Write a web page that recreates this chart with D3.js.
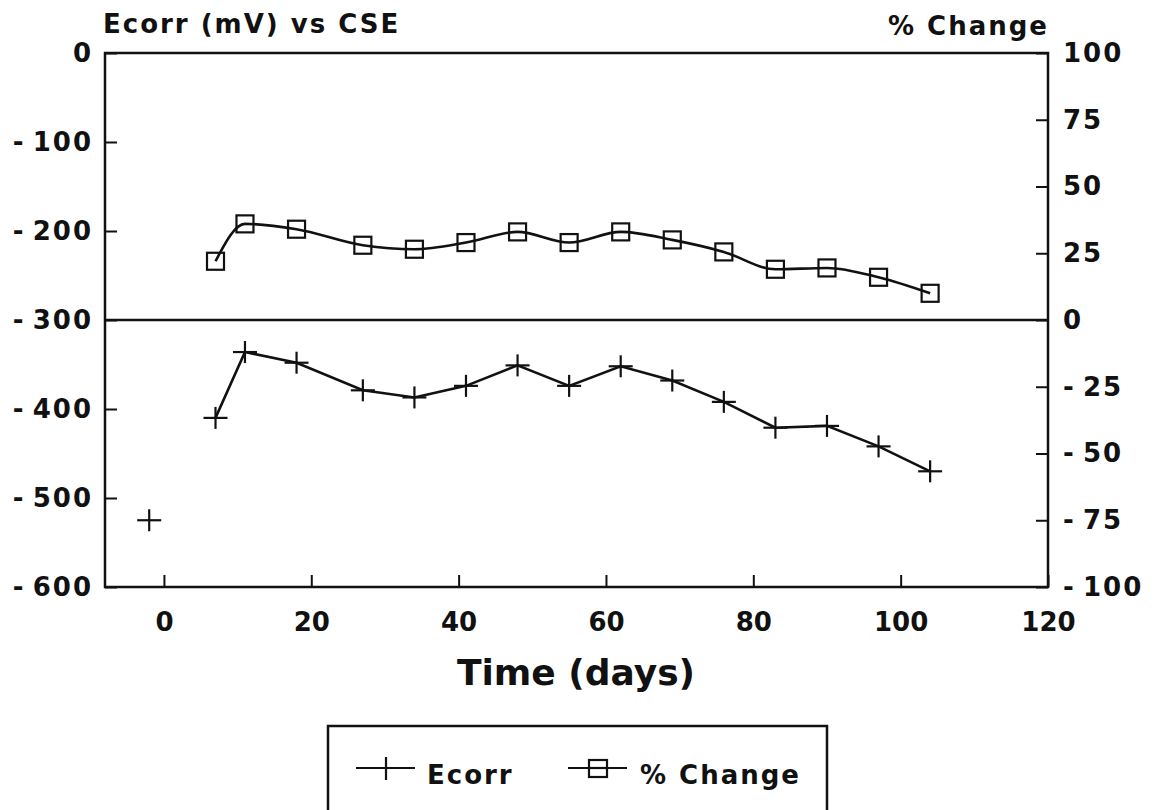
<!DOCTYPE html>
<html>
<head>
<meta charset="utf-8">
<script src="https://cdn.jsdelivr.net/npm/d3@7"></script>
<style>
  body { margin: 0; background: #fff; }
  text { font-family: "DejaVu Sans", sans-serif; font-weight: bold; fill: #111; }
</style>
</head>
<body>
<script>
// size of the page
const w = 1154;
const h = 810;

// data
const days = [7, 11, 18, 27, 34, 41, 48, 55, 62, 69, 76, 83, 90, 97, 104];
const ecorr = [-410, -336, -348, -379, -387, -374, -351, -374, -352, -368, -392, -421, -419, -442, -470];
const pctChange = [22, 36, 34, 28, 26.5, 29, 33, 29, 33, 30, 25.5, 19, 19.5, 16, 10];
// initial reading, not joined to the line
const initialDay = [-2];
const initialEcorr = [-525];

const xTicks = [0, 20, 40, 60, 80, 100, 120];
const leftTicks = [0, -100, -200, -300, -400, -500, -600];
const rightTicks = [100, 75, 50, 25, 0, -25, -50, -75, -100];

const plotLeft = 105, plotRight = 1048, plotTop = 53, plotBottom = 587;

const xScale = d3.scaleLinear().domain([-8, 120]).range([plotLeft, plotRight]);
const yLeft = d3.scaleLinear().domain([-600, 0]).range([plotBottom, plotTop]);
const yRight = d3.scaleLinear().domain([-100, 100]).range([plotBottom, plotTop]);

const svg = d3.select("body").append("svg").attr("width", w).attr("height", h);

// axes (ticks inward)
const xAxis = d3.axisBottom(xScale).tickValues(xTicks).tickSize(-12).tickPadding(26)
  .tickFormat(d => d);
const lAxis = d3.axisLeft(yLeft).tickValues(leftTicks).tickSize(-12).tickPadding(12)
  .tickFormat(d => d);
const rAxis = d3.axisRight(yRight).tickValues(rightTicks).tickSize(-12).tickPadding(15)
  .tickFormat(d => d);

function styleAxis(g) {
  g.select(".domain").remove();
  g.selectAll(".tick line").attr("stroke", "#111").attr("stroke-width", 2);
  g.selectAll(".tick text").attr("font-size", 26).attr("fill", "#111")
    .style("letter-spacing", "2px");
  // short dash for negatives, with a gap like the plotter font
  g.selectAll(".tick text").text(d => d < 0 ? "-\u2009" + Math.abs(d) : d);
}

svg.append("g").attr("transform", "translate(0," + plotBottom + ")").call(xAxis).call(styleAxis)
  .selectAll(".tick text").style("letter-spacing", "0px");
svg.append("g").attr("transform", "translate(" + plotLeft + ",0)").call(lAxis).call(styleAxis);
svg.append("g").attr("transform", "translate(" + plotRight + ",0)").call(rAxis).call(styleAxis);

// frame
svg.append("rect")
  .attr("x", plotLeft).attr("y", plotTop)
  .attr("width", plotRight - plotLeft).attr("height", plotBottom - plotTop)
  .attr("fill", "none").attr("stroke", "#111").attr("stroke-width", 2.5);

// zero line (-300 mV / 0 %)
svg.append("line")
  .attr("x1", plotLeft).attr("x2", plotRight)
  .attr("y1", yRight(0)).attr("y2", yRight(0))
  .attr("stroke", "#111").attr("stroke-width", 2.5);

// titles
svg.append("text").attr("x", 103).attr("y", 33).attr("font-size", 26)
  .style("letter-spacing", "2px").text("Ecorr (mV) vs CSE");
svg.append("text").attr("x", 1049).attr("y", 35).attr("font-size", 26)
  .attr("text-anchor", "end").style("letter-spacing", "2px").text("% Change");
svg.append("text").attr("x", 576).attr("y", 685).attr("font-size", 36)
  .attr("text-anchor", "middle").text("Time (days)");

// series
const ecorrPts = days.map((d, i) => [d, ecorr[i]]);
const pctPts = days.map((d, i) => [d, pctChange[i]]);

const ecorrLine = d3.line().x(d => xScale(d[0])).y(d => yLeft(d[1]));
const pctLine = d3.line().x(d => xScale(d[0])).y(d => yRight(d[1])).curve(d3.curveMonotoneX);

svg.append("path").datum(ecorrPts).attr("d", ecorrLine)
  .attr("fill", "none").attr("stroke", "#111").attr("stroke-width", 2.6);
svg.append("path").datum(pctPts).attr("d", pctLine)
  .attr("fill", "none").attr("stroke", "#111").attr("stroke-width", 2.6);

function cross(g, cx, cy) {
  g.append("line").attr("x1", cx - 12).attr("x2", cx + 12).attr("y1", cy).attr("y2", cy)
    .attr("stroke", "#111").attr("stroke-width", 2.2);
  g.append("line").attr("x1", cx).attr("x2", cx).attr("y1", cy - 11).attr("y2", cy + 11)
    .attr("stroke", "#111").attr("stroke-width", 2.2);
}

const marks = svg.append("g");
ecorrPts.forEach(d => cross(marks, xScale(d[0]), yLeft(d[1])));
initialDay.forEach((d, i) => cross(marks, xScale(d), yLeft(initialEcorr[i])));

marks.selectAll("rect.sq")
  .data(pctPts)
  .enter()
  .append("rect")
  .attr("class", "sq")
  .attr("x", d => xScale(d[0]) - 8.5)
  .attr("y", d => yRight(d[1]) - 8.5)
  .attr("width", 17)
  .attr("height", 17)
  .attr("fill", "none")
  .attr("stroke", "#111")
  .attr("stroke-width", 2.2);

// legend
const lg = svg.append("g");
lg.append("rect").attr("x", 328).attr("y", 726).attr("width", 499).attr("height", 120)
  .attr("fill", "none").attr("stroke", "#111").attr("stroke-width", 2.5);
lg.append("line").attr("x1", 356).attr("x2", 415).attr("y1", 768).attr("y2", 768)
  .attr("stroke", "#111").attr("stroke-width", 2.2);
lg.append("line").attr("x1", 386).attr("x2", 386).attr("y1", 757).attr("y2", 780)
  .attr("stroke", "#111").attr("stroke-width", 2.2);
lg.append("text").attr("x", 427).attr("y", 784).attr("font-size", 26)
  .style("letter-spacing", "2px").text("Ecorr");
lg.append("line").attr("x1", 568).attr("x2", 627).attr("y1", 768).attr("y2", 768)
  .attr("stroke", "#111").attr("stroke-width", 2.2);
lg.append("rect").attr("x", 589).attr("y", 760).attr("width", 18).attr("height", 17)
  .attr("fill", "#fff").attr("stroke", "#111").attr("stroke-width", 2.2);
lg.append("line").attr("x1", 589).attr("x2", 607).attr("y1", 768).attr("y2", 768)
  .attr("stroke", "#111").attr("stroke-width", 2.2);
lg.append("text").attr("x", 640).attr("y", 784).attr("font-size", 26)
  .style("letter-spacing", "2px").text("% Change");
</script>
</body>
</html>
